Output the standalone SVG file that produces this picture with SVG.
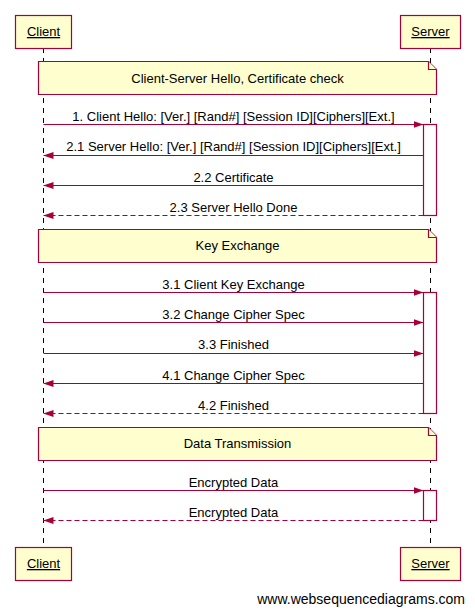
<svg xmlns="http://www.w3.org/2000/svg" width="475" height="615" viewBox="0 0 475 615">
<style>
text{font-family:"Liberation Sans",Arial,sans-serif;font-size:13px;fill:#000}
.p{fill:#fefece;stroke:#a80036;stroke-width:1.2}
.life{stroke:#000;stroke-width:1;stroke-dasharray:5,5;fill:none}
.m{stroke:#a80036;stroke-width:1.2;fill:none}
.d{stroke-dasharray:5,3}
.act{fill:#fff;stroke:#a80036;stroke-width:1.2}
.u{text-decoration:underline}
.c{text-anchor:middle}
</style>
<defs>
<marker id="ah" viewBox="0 0 10 7" refX="10" refY="3.5" markerWidth="10" markerHeight="7" markerUnits="userSpaceOnUse" orient="auto">
<path d="M0,0 L10,3.5 L0,7 Z" fill="#a80036"/>
</marker>
</defs>
<rect width="475" height="615" fill="#fff"/>
<g id="lifelines">
<line class="life" x1="43.5" y1="48" x2="43.5" y2="547"/>
<line class="life" x1="430.5" y1="48" x2="430.5" y2="547"/>
</g>
<g id="client-top"><rect class="p" x="15.5" y="15.5" width="56" height="33"/><text class="c u" x="43.5" y="36">Client</text></g>
<g id="server-top"><rect class="p" x="400.5" y="15.5" width="60" height="33"/><text class="c u" x="430.5" y="36">Server</text></g>
<g id="client-bottom"><rect class="p" x="15.5" y="547.5" width="56" height="33"/><text class="c u" x="43.5" y="568">Client</text></g>
<g id="server-bottom"><rect class="p" x="400.5" y="547.5" width="60" height="33"/><text class="c u" x="430.5" y="568">Server</text></g>
<g id="note1"><path class="p" d="M38.5,61.5 H428.5 L436.5,69.5 V94.5 H38.5 Z"/><path class="p" d="M428.5,61.5 V69.5 H436.5"/><text class="c" x="237.5" y="82.5">Client-Server Hello, Certificate check</text></g>
<g id="note2"><path class="p" d="M38.5,229.5 H428.5 L436.5,237.5 V262.5 H38.5 Z"/><path class="p" d="M428.5,229.5 V237.5 H436.5"/><text class="c" x="237.5" y="250">Key Exchange</text></g>
<g id="note3"><path class="p" d="M38.5,427.5 H428.5 L436.5,435.5 V460.5 H38.5 Z"/><path class="p" d="M428.5,427.5 V435.5 H436.5"/><text class="c" x="237.5" y="448">Data Transmission</text></g>
<g id="activations">
<rect class="act" x="423.5" y="124.5" width="13" height="91"/>
<rect class="act" x="423.5" y="292.5" width="13" height="121"/>
<rect class="act" x="423.5" y="490.5" width="13" height="30"/>
</g>
<g id="connectors">
<line class="m" x1="43.5" y1="124.5" x2="423.5" y2="124.5" marker-end="url(#ah)"/>
<line class="m" x1="423.5" y1="155.5" x2="43.5" y2="155.5" marker-end="url(#ah)"/>
<line class="m" x1="423.5" y1="185.5" x2="43.5" y2="185.5" marker-end="url(#ah)"/>
<line class="m d" x1="423.5" y1="215.5" x2="43.5" y2="215.5" marker-end="url(#ah)"/>
<line class="m" x1="43.5" y1="292.5" x2="423.5" y2="292.5" marker-end="url(#ah)"/>
<line class="m" x1="43.5" y1="322.5" x2="423.5" y2="322.5" marker-end="url(#ah)"/>
<line class="m" x1="43.5" y1="353.5" x2="423.5" y2="353.5" marker-end="url(#ah)"/>
<line class="m" x1="423.5" y1="383.5" x2="43.5" y2="383.5" marker-end="url(#ah)"/>
<line class="m d" x1="423.5" y1="413.5" x2="43.5" y2="413.5" marker-end="url(#ah)"/>
<line class="m" x1="43.5" y1="490.5" x2="423.5" y2="490.5" marker-end="url(#ah)"/>
<line class="m d" x1="423.5" y1="520.5" x2="43.5" y2="520.5" marker-end="url(#ah)"/>
</g>
<g id="labels">
<text class="c" x="233.5" y="120.5">1. Client Hello: [Ver.] [Rand#] [Session ID][Ciphers][Ext.]</text>
<text class="c" x="233.5" y="151">2.1 Server Hello: [Ver.] [Rand#] [Session ID][Ciphers][Ext.]</text>
<text class="c" x="233.5" y="181.5">2.2 Certificate</text>
<text class="c" x="233.5" y="211.5">2.3 Server Hello Done</text>
<text class="c" x="233.5" y="288.5">3.1 Client Key Exchange</text>
<text class="c" x="233.5" y="318.5">3.2 Change Cipher Spec</text>
<text class="c" x="233.5" y="349">3.3 Finished</text>
<text class="c" x="233.5" y="379.5">4.1 Change Cipher Spec</text>
<text class="c" x="233.5" y="409.5">4.2 Finished</text>
<text class="c" x="233.5" y="486.5">Encrypted Data</text>
<text class="c" x="233.5" y="516.5">Encrypted Data</text>
</g>
<text x="465" y="604" style="font-size:14px;text-anchor:end">www.websequencediagrams.com</text>
</svg>
